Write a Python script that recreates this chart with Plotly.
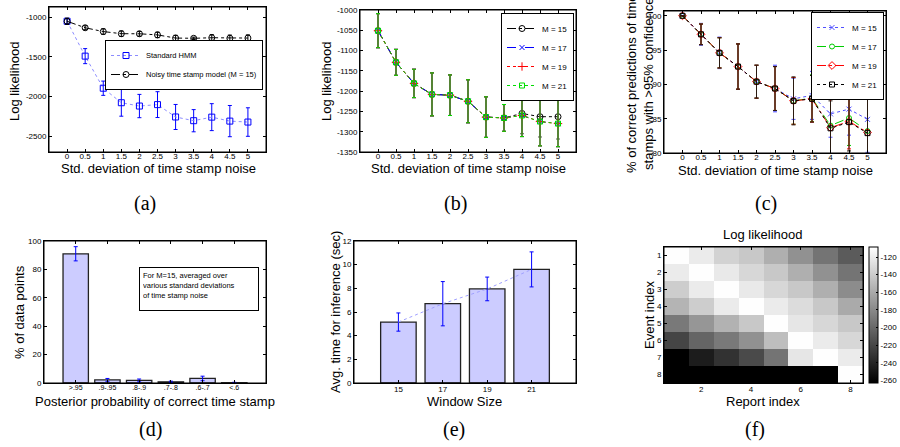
import plotly.graph_objects as go

W, H = 900, 447
FONT = "Liberation Sans, Arial, Helvetica, sans-serif"
SERIF = "Liberation Serif, Times New Roman, serif"

# ---------------- data ----------------
noise_std = [0, 0.5, 1, 1.5, 2, 2.5, 3, 3.5, 4, 4.5, 5]
noise_labels = ["0", "0.5", "1", "1.5", "2", "2.5", "3", "3.5", "4", "4.5", "5"]

# (a)
a_hmm = [-1050, -1490, -1895, -2078, -2120, -2102, -2258, -2305, -2260, -2310, -2322]
a_hmm_err = [30, 95, 90, 170, 147, 163, 158, 140, 170, 197, 180]
a_noisy = [-1050, -1132, -1180, -1207, -1208, -1222, -1262, -1265, -1258, -1264, -1262]
a_noisy_err = [40, 25, 35, 35, 30, 35, 35, 15, 40, 40, 40]
a_yticks = [-1000, -1500, -2000, -2500]

# (b)
b_m15 = [-1051, -1129, -1181, -1208, -1210, -1225, -1264, -1266, -1255, -1263, -1263]
b_m15_err = [42, 32, 35, 53, 50, 53, 50, 33, 50, 50, 55]
b_m17 = [-1051, -1129, -1181, -1208, -1210, -1225, -1264, -1266, -1260, -1275, -1280]
b_m17_err = [42, 32, 35, 53, 50, 53, 50, 33, 52, 60, 57]
b_m19 = [-1051, -1129, -1181, -1208, -1210, -1225, -1264, -1266, -1260, -1275, -1280]
b_m19_err = [42, 32, 35, 53, 50, 53, 50, 33, 52, 60, 57]
b_m21 = [-1051, -1129, -1181, -1208, -1210, -1225, -1264, -1266, -1260, -1275, -1280]
b_m21_err = [42, 32, 35, 53, 50, 53, 50, 33, 52, 60, 57]
b_yticks = [-1000, -1050, -1100, -1150, -1200, -1250, -1300, -1350]

# (c)
c_m15 = [100, 97.3, 94.6, 92.6, 90.4, 89.4, 87.9, 88.4, 85.7, 86.4, 84.9]
c_m15_err = [0, 1.6, 2.3, 3.3, 2.4, 3.4, 3.0, 3.5, 3.4, 3.8, 4.8]
c_m17 = [100, 97.3, 94.6, 92.6, 90.4, 89.4, 87.6, 88.0, 84.0, 85.1, 83.2]
c_m17_err = [0, 1.5, 2.2, 3.3, 2.4, 3.2, 3.4, 3.4, 4.2, 4.0, 5.4]
c_m19 = [100, 97.3, 94.6, 92.6, 90.4, 89.4, 87.6, 87.9, 83.7, 84.6, 83.0]
c_m19_err = [0, 1.5, 2.2, 3.3, 2.4, 3.2, 3.4, 3.4, 4.5, 4.0, 5.4]
c_m21 = [100, 97.3, 94.6, 92.6, 90.4, 89.4, 87.6, 87.9, 83.6, 84.5, 82.9]
c_m21_err = [0, 1.5, 2.2, 3.3, 2.4, 3.2, 3.5, 3.4, 4.0, 4.2, 5.5]
c_yticks = [80, 85, 90, 95, 100]

# (d)
d_categories = [">.95", ".9-.95", ".8-.9", ".7-.8", ".6-.7", "<.6"]
d_percent = [91, 2.2, 1.8, 0.8, 3.2, 0.2]
d_err = [5, 1.0, 1.0, 0.5, 1.6, 0.3]
d_yticks = [0, 20, 40, 60, 80, 100]

# (e)
e_window = ["15", "17", "19", "21"]
e_time = [5.15, 6.7, 7.95, 9.6]
e_err = [0.77, 1.87, 1.0, 1.48]
e_yticks = [0, 2, 4, 6, 8, 10, 12]

# (f)
f_report = [1, 2, 3, 4, 5, 6, 7, 8]
f_event = [1, 2, 3, 4, 5, 6, 7, 8]
f_loglik = [
    [-109, -121, -136, -142, -157, -175, -193, -208],
    [-121, -109, -122, -133, -142, -157, -175, -193],
    [-139, -121, -109, -122, -133, -142, -157, -178],
    [-154, -139, -121, -109, -121, -130, -142, -160],
    [-190, -172, -155, -142, -109, -124, -133, -142],
    [-221, -202, -190, -175, -148, -109, -121, -133],
    [-270, -246, -233, -218, -193, -124, -109, -121],
    [-280, -280, -280, -280, -280, -280, -280, -109],
]
f_cbar_ticks = [-120, -140, -160, -180, -200, -220, -240, -260]
f_ticks = [2, 4, 6, 8]

# panel boxes in pixels (left, top, right, bottom)
BOX = {
    "a": (49, 7, 266, 152), "b": (360, 10, 576, 152), "c": (664, 11, 886, 153),
    "d": (44, 241, 266, 383), "e": (354, 241, 576, 383), "f": (664, 247, 863, 383),
}


# ---------------- helpers ----------------
def dom_x(k):
    return [BOX[k][0] / W, BOX[k][2] / W]


def dom_y(k):
    return [1 - BOX[k][3] / H, 1 - BOX[k][1] / H]


def px(x, y):
    return x / W, 1 - y / H


def axis(domain, rng, anchor, tickvals=None, ticktext=None, **kw):
    d = dict(domain=domain, range=rng, anchor=anchor, showline=True, linecolor="#000000", linewidth=1,
             mirror="ticks", ticks="inside", ticklen=3, tickcolor="#000000", tickwidth=1,
             showgrid=False, zeroline=False, automargin=False, layer="above traces",
             tickfont=dict(family=FONT, size=8, color="black"))
    if tickvals is not None:
        d["tickvals"] = tickvals
        d["ticktext"] = ticktext if ticktext is not None else [str(v) for v in tickvals]
    d.update(kw)
    return d


def err(arr, color, w=2):
    return dict(type="data", array=arr, color=color, thickness=1, width=w, visible=True)


fig = go.Figure()

# ---- (a) ----
fig.add_trace(go.Scatter(x=noise_std, y=a_hmm, mode="lines+markers", name="Standard HMM",
                         line=dict(color="#8c8cff", width=1, dash="dot"),
                         marker=dict(symbol="square-open", size=6, color="blue", line=dict(width=1, color="blue")),
                         error_y=err(a_hmm_err, "blue"), xaxis="x", yaxis="y", legend="legend"))
fig.add_trace(go.Scatter(x=noise_std, y=a_noisy, mode="lines+markers", name="Noisy time stamp model (M = 15)",
                         line=dict(color="black", width=1, dash="dashdot"),
                         marker=dict(symbol="circle-open", size=6, color="black", line=dict(width=1, color="black")),
                         error_y=err(a_noisy_err, "black"), xaxis="x", yaxis="y", legend="legend"))

# ---- (b) ----
b_series = [
    ("M = 15", b_m15, b_m15_err, "black", "dashdot", "circle-open", 6),
    ("M = 17", b_m17, b_m17_err, "blue", "dash", "x-thin-open", 5),
    ("M = 19", b_m19, b_m19_err, "red", "dot", "cross-thin-open", 6),
    ("M = 21", b_m21, b_m21_err, "#00dd00", "dot", "square-open", 5),
]
for name, ys, es, col, dash, sym, sz in b_series:
    fig.add_trace(go.Scatter(x=noise_std, y=ys, mode="lines+markers", name=name,
                             line=dict(color=col, width=1, dash=dash),
                             marker=dict(symbol=sym, size=sz, color=col, line=dict(width=1, color=col)),
                             error_y=err(es, col if col != "black" else "#555555"),
                             xaxis="x2", yaxis="y2", legend="legend2"))

# ---- (c) ----
c_series = [
    ("M = 15", c_m15, c_m15_err, "#5050ff", "dot", "x-thin-open", 5),
    ("M = 17", c_m17, c_m17_err, "#00cc00", "dash", "circle-open", 5),
    ("M = 19", c_m19, c_m19_err, "red", "dashdot", "diamond-open", 6),
    ("M = 21", c_m21, c_m21_err, "black", "dot", "square-open", 5),
]
for name, ys, es, col, dash, sym, sz in c_series:
    fig.add_trace(go.Scatter(x=noise_std, y=ys, mode="lines+markers", name=name,
                             line=dict(color=col, width=1, dash=dash),
                             marker=dict(symbol=sym, size=sz, color=col, line=dict(width=1, color=col)),
                             error_y=err(es, col if col != "black" else "#2a1a10"),
                             xaxis="x3", yaxis="y3", legend="legend3"))

# ---- (d) ----
fig.add_trace(go.Bar(x=d_categories, y=d_percent, width=0.8, showlegend=False,
                     marker=dict(color="#ccccff", line=dict(color="#222222", width=1.3)),
                     error_y=err(d_err, "blue"), xaxis="x4", yaxis="y4"))

# ---- (e) ----
fig.add_trace(go.Bar(x=e_window, y=e_time, width=0.8, showlegend=False,
                     marker=dict(color="#ccccff", line=dict(color="#222222", width=1.3)),
                     xaxis="x5", yaxis="y5"))
fig.add_trace(go.Scatter(x=e_window, y=e_time, mode="lines", showlegend=False,
                         line=dict(color="#a0a0ff", width=1, dash="dot"),
                         error_y=err(e_err, "blue"), xaxis="x5", yaxis="y5"))

# ---- (f) ----
fig.add_trace(go.Heatmap(x=f_report, y=f_event, z=f_loglik, zmin=-263, zmax=-108.6,
                         colorscale=[[0, "black"], [1, "white"]], xaxis="x6", yaxis="y6",
                         colorbar=dict(x=869 / W, xanchor="left", y=1 - 383 / H, yanchor="bottom",
                                       len=136 / H, lenmode="fraction", thickness=9, thicknessmode="pixels",
                                       xpad=0, ypad=0, outlinewidth=1, outlinecolor="black",
                                       ticks="inside", ticklen=2, tickcolor="black",
                                       tickvals=f_cbar_ticks, ticktext=[str(v) for v in f_cbar_ticks],
                                       tickfont=dict(family=FONT, size=8, color="black"))))

legend_style = dict(bgcolor="white", bordercolor="black", borderwidth=1,
                    font=dict(family=FONT, size=8, color="black"),
                    xanchor="right", yanchor="top", tracegroupgap=0, itemwidth=30)

XS = -4  # pull x tick labels up toward the axis

fig.update_layout(
    width=W, height=H, margin=dict(l=0, r=0, t=0, b=0),
    paper_bgcolor="white", plot_bgcolor="rgba(0,0,0,0)",
    font=dict(family=FONT, color="black"),
    xaxis=axis(dom_x("a"), [-0.5, 5.5], "y", noise_std, noise_labels, ticklabelstandoff=XS),
    yaxis=axis(dom_y("a"), [-2700, -870], "x", a_yticks),
    xaxis2=axis(dom_x("b"), [-0.5, 5.5], "y2", noise_std, noise_labels, ticklabelstandoff=XS),
    yaxis2=axis(dom_y("b"), [-1350, -1000], "x2", b_yticks),
    xaxis3=axis(dom_x("c"), [-0.5, 5.5], "y3", noise_std, noise_labels, ticklabelstandoff=XS),
    yaxis3=axis(dom_y("c"), [80, 100.7], "x3", c_yticks),
    xaxis4=axis(dom_x("d"), [-1, 6], "y4", type="category", ticklabelstandoff=-2,
                tickfont=dict(family=FONT, size=7, color="black")),
    yaxis4=axis(dom_y("d"), [0, 100], "x4", d_yticks),
    xaxis5=axis(dom_x("e"), [-1, 4], "y5", type="category", ticklabelstandoff=-2),
    yaxis5=axis(dom_y("e"), [0, 12], "x5", e_yticks),
    xaxis6=axis(dom_x("f"), [0.5, 8.5], "y6", f_ticks, ticklabelstandoff=-2),
    yaxis6=axis(dom_y("f"), [8.5, 0.5], "x6", f_event),
    legend=dict(legend_style, x=263 / W, y=1 - 40 / H, font=dict(family=FONT, size=7.5, color="black")),
    legend2=dict(legend_style, x=574 / W, y=1 - 13 / H),
    legend3=dict(legend_style, x=884 / W, y=1 - 12 / H),
    bargap=0.2,
)

# panel frames (MATLAB-style box), paper-referenced
for k in BOX:
    l, t, r, b = BOX[k]
    fig.add_shape(type="rect", xref="paper", yref="paper", x0=l / W, x1=r / W, y0=1 - b / H, y1=1 - t / H,
                  line=dict(color="black", width=1), fillcolor="rgba(0,0,0,0)", layer="above")

# ---- axis titles and panel labels ----
ann = []


def text(x, y, s, size=13, angle=0, family=FONT):
    xx, yy = px(x, y)
    ann.append(dict(x=xx, y=yy, xref="paper", yref="paper", text=s, showarrow=False,
                    textangle=angle, xanchor="center", yanchor="middle",
                    font=dict(family=family, size=size, color="black")))


xt = "Std. deviation of time stamp noise"
text(158, 168, xt)
text(468, 168, xt)
text(775, 170, xt)
text(15, 81, "Log likelihood", angle=-90)
text(327, 81, "Log likelihood", angle=-90)
text(640, 84, "% of correct predictions of time<br>stamps with >95% confidence", angle=-90)

text(155, 401, "Posterior probability of correct time stamp")
text(19, 312, "% of data points", angle=-90)
text(464, 401, "Window Size")
text(335, 312, "Avg. time for inference (sec)", angle=-90)
text(763, 401, "Report index")
text(649, 315, "Event index", angle=-90)
text(763, 234, "Log likelihood")

# note box in (d)
xx, yy = px(139, 267)
ann.append(dict(x=xx, y=yy, xref="paper", yref="paper", showarrow=False, align="left",
                xanchor="left", yanchor="top", bordercolor="black", borderwidth=1, borderpad=3,
                bgcolor="white", width=112, height=36, valign="top",
                text="For M=15, averaged over<br>various standard deviations<br>of time stamp noise",
                font=dict(family=FONT, size=7.5, color="black")))

for lab, x, y in [("(a)", 145, 203), ("(b)", 455, 203), ("(c)", 766, 203),
                  ("(d)", 150, 429), ("(e)", 454, 429), ("(f)", 755, 429)]:
    text(x, y, lab, size=20, family=SERIF)

fig.update_layout(annotations=ann)
fig.write_html("out.html", config={"displayModeBar": False},
               post_script="document.body.style.margin='0';document.body.style.overflow='hidden';")
